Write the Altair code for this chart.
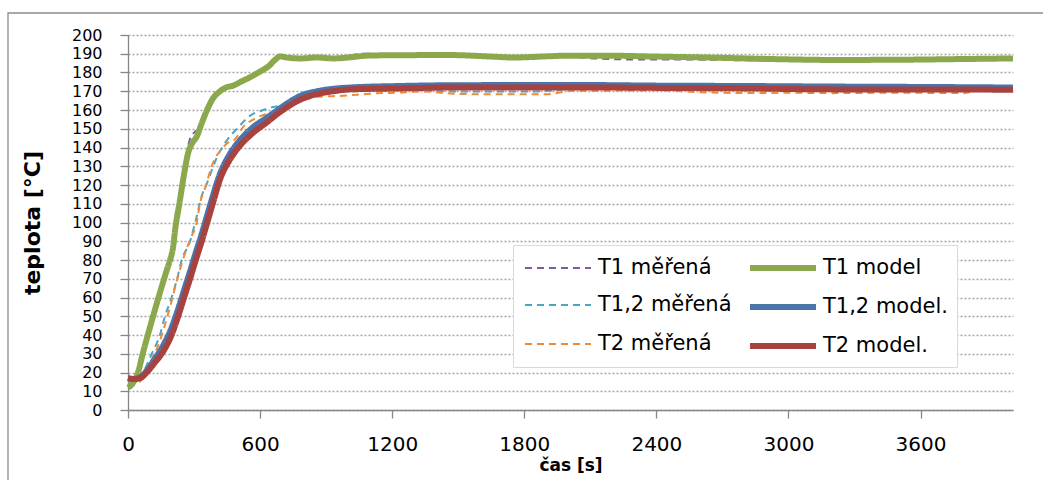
import altair as alt
import pandas as pd

# ---- time [s] / temperature [°C] for each series ----
t1_mer_t = [0, 45, 68, 114, 159, 191, 214, 236, 260, 280, 300, 320, 340, 359, 385, 418, 477, 555, 640, 691,
            782, 932, 1077, 1200, 1464, 1750, 2000, 2150, 2250, 2500, 2800, 3000, 3200, 3500, 3800, 4020]
t1_mer_v = [12, 20, 30.5, 50, 68, 80, 97, 114, 132, 144, 148, 150, 155, 160, 166, 170.5, 173, 177.5, 183.5, 188.3,
            187.5, 187.8, 190, 189, 189, 188, 188.3, 187.3, 187, 187, 186.5, 186.3, 186.3, 186.5, 186.8, 187]

t1_mod_t = [0, 20, 45, 68, 90, 114, 136, 159, 180, 191, 205, 214, 236, 255, 273, 290, 313, 335, 359, 385,
            418, 445, 477, 520, 555, 600, 640, 670, 691, 720, 782, 859, 932, 1000, 1086, 1200, 1464, 1650, 1750, 1900,
            2000, 2150, 2400, 2700, 3000, 3200, 3500, 3800, 4020]
t1_mod_v = [12, 14, 20, 30.5, 40, 50, 59, 68, 76, 80, 87, 96, 112, 126, 137, 142, 146, 153, 160, 166,
            170, 172, 173, 175.5, 177.5, 180.5, 183.5, 187, 188.6, 188, 187.5, 188, 187.5, 188, 189, 189.2, 189.3, 188.5, 188, 188.6,
            189, 189, 188.5, 187.8, 187, 186.7, 186.8, 187.2, 187.5]

t12_mer_t = [0, 30, 68, 108, 145, 168, 198, 223, 244, 282, 305, 318, 327, 359, 405, 450, 495, 555, 614, 640,
             700, 782, 859, 932, 1009, 1236, 1500, 1841, 2000, 2400, 2800, 3200, 3600, 3800]
t12_mer_v = [14, 15, 20, 30, 40, 50, 60, 70, 80, 90, 100, 106, 111, 121, 135, 144, 150, 157, 160, 161,
             162.5, 165.5, 168.5, 169.5, 170, 170.5, 169.9, 169.9, 171, 171.5, 171, 170.5, 170.5, 170.5]

model_t = [0, 25, 55, 85, 120, 153, 198, 228, 255, 282, 308, 335, 360, 385, 418, 460, 509, 570, 632, 680,
           723, 782, 859, 932, 1009, 1236, 1464, 1800, 2100, 2400, 2800, 3200, 3600, 4020]
t12_mod_v = [17, 16.5, 17.5, 21, 27, 33, 44, 54, 64, 74, 84, 94, 104, 114, 126, 136, 144, 151, 156, 160,
             163.5, 167.5, 170, 171.3, 172, 172.8, 173.2, 173.3, 173.3, 173, 172.8, 172.5, 172.3, 172]
t2_mod_v = [17, 16.5, 17, 20, 25, 30, 40, 50, 60, 70, 80, 90, 100, 110, 123, 133, 141, 148, 153.5, 158,
            161.5, 165.5, 168.5, 170, 171, 171.5, 172, 172, 172, 171.8, 171.5, 171, 171, 170.8]

t2_mer_t = [0, 30, 60, 100, 145, 191, 236, 282, 312, 327, 355, 380, 432, 460, 477, 500, 517, 570, 632, 680,
            720, 782, 859, 977, 1114, 1236, 1341, 1464, 1600, 1900, 2023, 2145, 2400, 2600, 2800, 3000, 3200, 3500, 3795, 3850]
t2_mer_v = [13, 13.5, 16, 25, 37, 55, 75, 91, 100, 110, 120, 130, 140, 143, 143.5, 146.5, 150, 155, 158, 159.5,
            161.5, 164.5, 167, 167.6, 168.8, 169.3, 169.9, 168.8, 168.4, 168.4, 170.3, 170.3, 170.5, 169.5, 169, 169.2, 169, 169.2, 169, 170.5]

# legend fills column by column: measured curves left, model curves right
names = ["T1 měřená", "T1,2 měřená", "T2 měřená", "T1 model", "T1,2 model.", "T2 model."]
colors = ["#7B5FA1", "#4BA6C6", "#EE8B3A", "#8BA84C", "#4A74AA", "#A8423F"]
dashes = [[7, 5], [7, 5], [7, 5], [1, 0], [1, 0], [1, 0]]
widths = [2, 2, 2, 6, 6, 6]

series = {
    "T1 měřená": (t1_mer_t, t1_mer_v),
    "T1 model": (t1_mod_t, t1_mod_v),
    "T1,2 měřená": (t12_mer_t, t12_mer_v),
    "T1,2 model.": (model_t, t12_mod_v),
    "T2 měřená": (t2_mer_t, t2_mer_v),
    "T2 model.": (model_t, t2_mod_v),
}

FONT = "DejaVu Sans"
AXIS_GREY = "#868686"

legend = alt.Legend(
    title=None, orient="none", legendX=385, legendY=210, columns=2,
    symbolType="M-1,0L5,0", symbolSize=484, symbolFillColor="transparent",
    labelFont=FONT, labelFontSize=21, labelColor="black", labelOffset=48, labelLimit=400,
    strokeColor="#d9d9d9", fillColor="white", padding=9, rowPadding=13, columnPadding=6,
)

x_enc = alt.X("t:Q", scale=alt.Scale(domain=[0, 4020], nice=False),
              axis=alt.Axis(values=[0, 600, 1200, 1800, 2400, 3000, 3600], format="d", title="čas [s]", grid=False,
                            tickSize=8, tickColor=AXIS_GREY, tickWidth=1.3, domainColor=AXIS_GREY, domainWidth=1.3,
                            labelFont=FONT, labelFontSize=20, labelColor="black", labelPadding=16,
                            labelFlush=False, labelOverlap=False,
                            titleFont=FONT, titleFontWeight="bold", titleFontSize=17, titleColor="black",
                            titleBaseline="alphabetic", titleY=60))
y_enc = alt.Y("v:Q", scale=alt.Scale(domain=[0, 200], nice=False),
              axis=alt.Axis(values=list(range(0, 201, 10)), format="d", title="teplota [°C]", grid=True,
                            gridColor="#a6a6a6", gridDash=[2, 2], gridWidth=1.5,
                            tickSize=8, tickColor=AXIS_GREY, tickWidth=1.3, domainColor=AXIS_GREY, domainWidth=1.3,
                            labelFont=FONT, labelFontSize=16, labelColor="black", labelPadding=18,
                            labelFlush=False, labelOverlap=False,
                            titleFont=FONT, titleFontWeight="bold", titleFontSize=22, titleColor="black",
                            titleAngle=270, titleBaseline="middle", titleAlign="center", titleX=-96, titleY=187.5))

def line_layer(name):
    ts, vs = series[name]
    df = pd.DataFrame({"t": ts, "v": vs, "series": name})
    return alt.Chart(df).mark_line(interpolate="monotone", strokeCap="butt").encode(
        x=x_enc, y=y_enc,
        color=alt.Color("series:N", scale=alt.Scale(domain=names, range=colors), legend=legend),
        strokeDash=alt.StrokeDash("series:N", scale=alt.Scale(domain=names, range=dashes), legend=legend),
        strokeWidth=alt.StrokeWidth("series:N", scale=alt.Scale(type="ordinal", domain=names, range=widths), legend=legend),
    )

# measured curves first, model curves on top
order = ["T1 měřená", "T1,2 měřená", "T2 měřená", "T1 model", "T1,2 model.", "T2 model."]
layers = [line_layer(n) for n in order]

frame = alt.Chart(pd.DataFrame({"f": [0]})).mark_rect(
    filled=False, stroke="#8c8c8c", strokeWidth=1.3
).encode(x=alt.value(-120), x2=alt.value(940), y=alt.value(-22), y2=alt.value(470))

chart = alt.layer(frame, *layers).properties(
    width=885, height=375,
    autosize=alt.AutoSizeParams(type="none"),
    padding={"left": 128, "top": 35, "right": 30, "bottom": 70},
    background="white",
).configure_view(strokeOpacity=0)

chart.save("out.html", embed_options={"renderer": "svg", "actions": False})
